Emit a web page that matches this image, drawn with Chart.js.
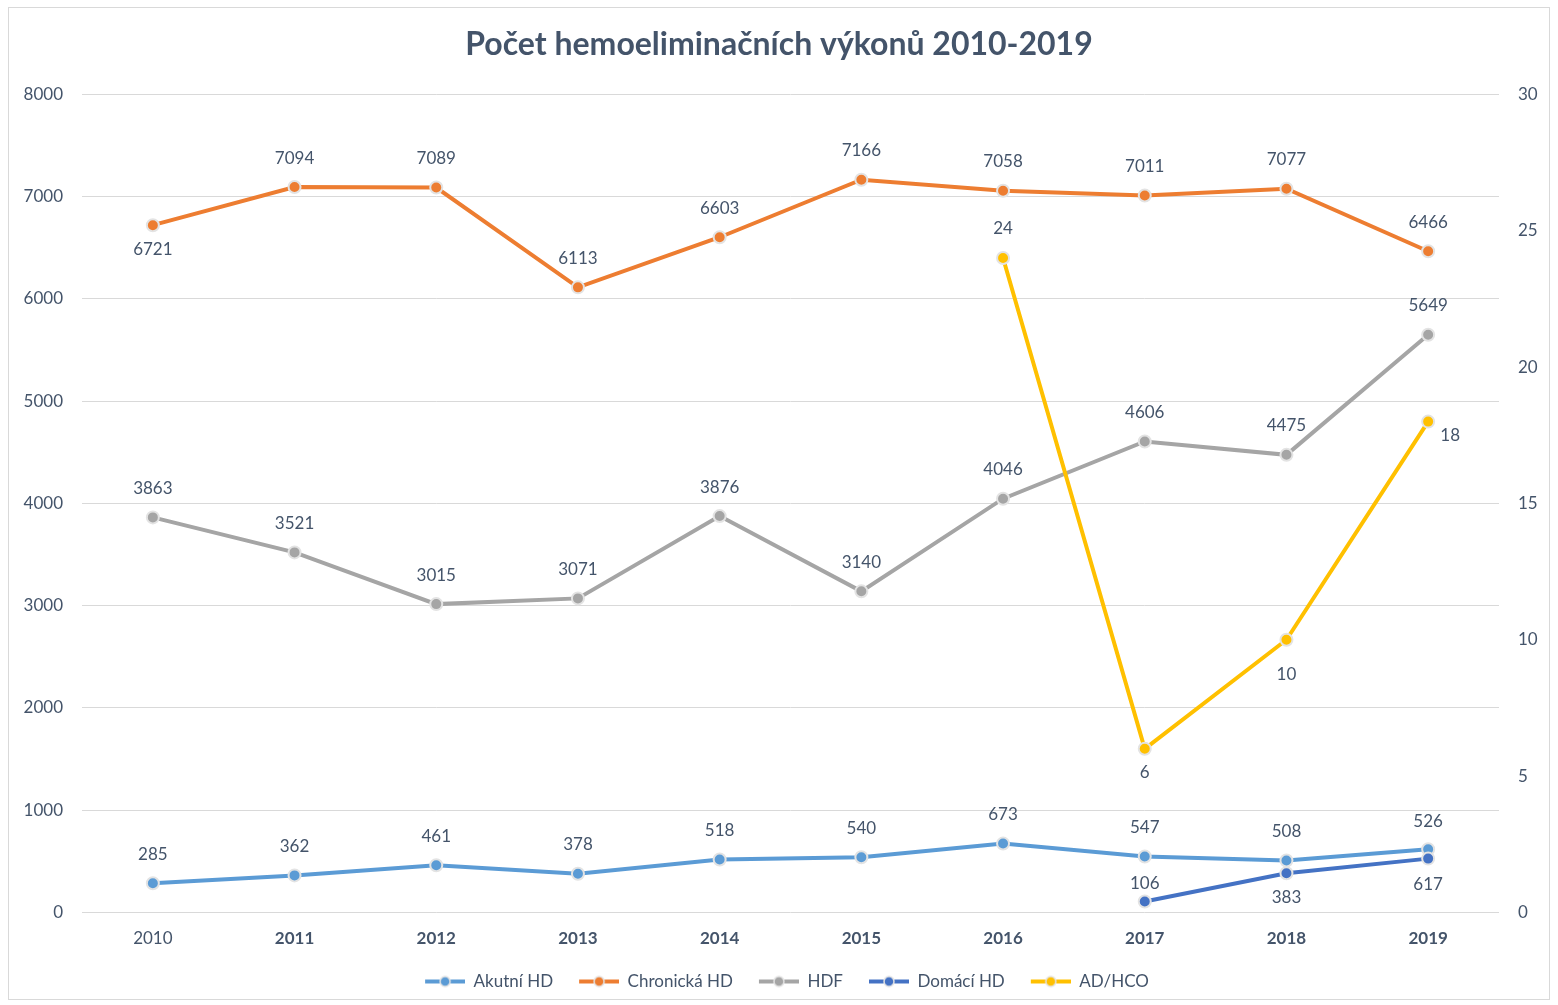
<!DOCTYPE html>
<html>
<head>
<meta charset="utf-8">
<script src="https://cdn.jsdelivr.net/npm/chart.js@4"></script>
<style>
  html, body { margin: 0; padding: 0; background: #fff; }
  #wrap { width: 1558px; height: 1005px; position: relative; }
</style>
</head>
<body>
<div id="wrap"><canvas id="chart" width="1558" height="1005"></canvas></div>
<script>
// data
const years = ['2010', '2011', '2012', '2013', '2014', '2015', '2016', '2017', '2018', '2019'];
const akutniHD = [285, 362, 461, 378, 518, 540, 673, 547, 508, 617];
const chronickaHD = [6721, 7094, 7089, 6113, 6603, 7166, 7058, 7011, 7077, 6466];
const hdf = [3863, 3521, 3015, 3071, 3876, 3140, 4046, 4606, 4475, 5649];
const domaciHD = [null, null, null, null, null, null, null, 106, 383, 526];
const adHco = [null, null, null, null, null, null, 24, 6, 10, 18];

const leftTicks = { min: 0, max: 8000, step: 1000 };
const rightTicks = { min: 0, max: 30, step: 5 };

// where each value label sits (a = above, b = below, r = right ...)
const akutniPos = ['a', 'a', 'a', 'a', 'a', 'a', 'a', 'a', 'a', 'B'];
const chronickaPos = ['b', 'a', 'a', 'a', 'a', 'a', 'a', 'a', 'a', 'a'];
const hdfPos = ['a', 'a', 'a', 'a', 'a', 'a', 'a', 'a', 'a', 'a'];
const domaciPos = [null, null, null, null, null, null, null, 'n', 'b', 'A'];
const adHcoPos = [null, null, null, null, null, null, 'a', 'b', 'B', 'r'];

const offsets = {
    a: [0, -29],
    A: [0, -37],
    n: [0, -18],
    b: [0, 24],
    B: [0, 35],
    r: [22, 14]
};

const FONT = 'Lato, "Open Sans", sans-serif';
const TEXT = '#44546a';

// legend marker: short line with a dot, 16px blank on the left for spacing
function legendIcon(color) {
    const c = document.createElement('canvas');
    c.width = 56;
    c.height = 14;
    const g = c.getContext('2d');
    g.strokeStyle = color;
    g.lineWidth = 4;
    g.beginPath();
    g.moveTo(16, 7);
    g.lineTo(56, 7);
    g.stroke();
    g.beginPath();
    g.arc(36, 7, 5, 0, Math.PI * 2);
    g.fillStyle = color;
    g.fill();
    g.lineWidth = 1.5;
    g.strokeStyle = '#e3e3e3';
    g.stroke();
    return c;
}

function series(label, data, color, axis, order, pos) {
    return {
        label: label,
        data: data,
        borderColor: color,
        backgroundColor: color,
        borderWidth: 4,
        pointRadius: 6,
        pointHoverRadius: 6,
        pointBackgroundColor: color,
        pointBorderColor: '#e3e3e3',
        pointBorderWidth: 2,
        tension: 0,
        yAxisID: axis,
        order: order,
        labelPos: pos,
        icon: legendIcon(color)
    };
}

// value labels next to the points
const valueLabels = {
    id: 'valueLabels',
    afterDatasetsDraw(chart) {
        const ctx = chart.ctx;
        ctx.save();
        ctx.font = '17px ' + FONT;
        ctx.fillStyle = TEXT;
        ctx.textAlign = 'center';
        ctx.textBaseline = 'middle';
        chart.data.datasets.forEach((ds, i) => {
            const meta = chart.getDatasetMeta(i);
            meta.data.forEach((pt, j) => {
                const v = ds.data[j];
                const p = ds.labelPos[j];
                if (v === null || !p) return;
                const o = offsets[p];
                ctx.fillText(String(v), pt.x + o[0], pt.y + o[1]);
            });
        });
        ctx.restore();
    }
};

// thin frame round the whole chart
const frame = {
    id: 'frame',
    beforeDraw(chart) {
        const ctx = chart.ctx;
        ctx.save();
        ctx.strokeStyle = '#d9d9d9';
        ctx.lineWidth = 1;
        ctx.strokeRect(8.5, 7.5, 1541, 992);
        ctx.restore();
    }
};

const ctx = document.getElementById('chart').getContext('2d');
const chart = new Chart(ctx, {
    type: 'line',
    data: {
        labels: years,
        datasets: [
            series('Akutní HD', akutniHD, '#5b9bd5', 'y', 5, akutniPos),
            series('Chronická HD', chronickaHD, '#ed7d31', 'y', 4, chronickaPos),
            series('HDF', hdf, '#a5a5a5', 'y', 3, hdfPos),
            series('Domácí HD', domaciHD, '#4472c4', 'y', 2, domaciPos),
            series('AD/HCO', adHco, '#ffc000', 'y1', 1, adHcoPos)
        ]
    },
    options: {
        responsive: false,
        animation: false,
        layout: { padding: { left: 0, right: 0, top: 0, bottom: 5 } },
        plugins: {
            title: {
                display: true,
                text: 'Počet hemoeliminačních výkonů 2010-2019',
                color: TEXT,
                font: { family: FONT, size: 32, weight: 'bold', lineHeight: 1.2 },
                padding: { top: 25, bottom: 31 }
            },
            legend: {
                position: 'bottom',
                labels: {
                    usePointStyle: true,
                    pointStyleWidth: 56,
                    padding: 10,
                    color: TEXT,
                    font: { family: FONT, size: 17 },
                    generateLabels(chart) {
                        return chart.data.datasets.map((ds, i) => ({
                            text: ds.label,
                            pointStyle: ds.icon,
                            fillStyle: ds.borderColor,
                            strokeStyle: ds.borderColor,
                            lineWidth: 0,
                            fontColor: TEXT,
                            hidden: false,
                            datasetIndex: i
                        }));
                    }
                }
            },
            tooltip: { enabled: false }
        },
        scales: {
            x: {
                offset: true,
                grid: { display: false },
                border: { display: false },
                ticks: {
                    color: TEXT,
                    padding: 8,
                    font: (c) => ({ family: FONT, size: 17, weight: c.index === 0 ? 'normal' : 'bold' })
                },
                afterFit(s) { s.height = 50.6; }
            },
            y: {
                position: 'left',
                min: leftTicks.min,
                max: leftTicks.max,
                grid: { color: '#d9d9d9', lineWidth: 1, drawTicks: false },
                border: { display: false },
                ticks: {
                    stepSize: leftTicks.step,
                    color: TEXT,
                    padding: 19,
                    font: { family: FONT, size: 17 },
                    callback: (v) => String(v)
                },
                afterFit(s) { s.width = 82; }
            },
            y1: {
                position: 'right',
                min: rightTicks.min,
                max: rightTicks.max,
                grid: { display: false, drawTicks: false },
                border: { display: false },
                ticks: {
                    stepSize: rightTicks.step,
                    color: TEXT,
                    padding: 19,
                    font: { family: FONT, size: 17 },
                    callback: (v) => String(v)
                },
                afterFit(s) { s.width = 59; }
            }
        }
    },
    plugins: [valueLabels, frame]
});
</script>
</body>
</html>
